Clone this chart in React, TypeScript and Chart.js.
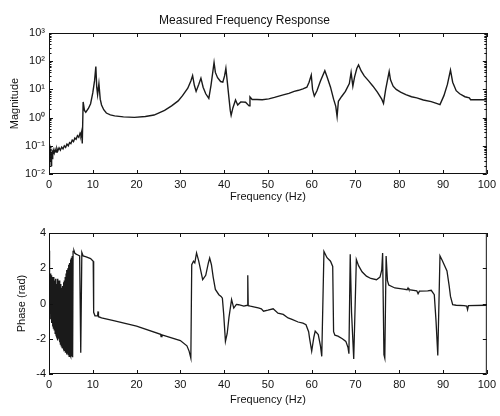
import React, { useEffect, useRef } from 'react';
import { Chart, registerables } from 'chart.js';

Chart.register(...registerables);

const FONT = "'Liberation Sans', Arial, Helvetica, sans-serif";
const INK = '#111111';

const chartTitle = 'Measured Frequency Response';
const xAxisTitle = 'Frequency (Hz)';
const magAxisTitle = 'Magnitude';
const phaseAxisTitle = 'Phase (rad)';

const freqTicks = [0, 10, 20, 30, 40, 50, 60, 70, 80, 90, 100];
const magTickValues = [0.01, 0.1, 1, 10, 100, 1000];
const magTickLabels = ['10⁻²', '10⁻¹', '10⁰', '10¹', '10²', '10³'];
const phaseTickValues = [-4, -2, 0, 2, 4];
const phaseTickLabels = ['-4', '-2', '0', '2', '4'];

// [frequency Hz, magnitude]
const magnitudePoints: [number, number][] = [
  [0.0, 0.09], [0.1, 0.05], [0.2, 0.11], [0.3, 0.03], [0.4, 0.08], [0.5, 0.02], [0.6, 0.06], [0.7, 0.035],
  [0.8, 0.07], [0.9, 0.045], [1.0, 0.07], [1.2, 0.055], [1.4, 0.075], [1.6, 0.06], [1.8, 0.08], [2.0, 0.065],
  [2.3, 0.085], [2.6, 0.07], [2.9, 0.09], [3.2, 0.078], [3.5, 0.1], [3.8, 0.088], [4.1, 0.115], [4.4, 0.1],
  [4.7, 0.13], [5.0, 0.12], [5.3, 0.16], [5.6, 0.14], [5.9, 0.19], [6.2, 0.17], [6.5, 0.23], [6.8, 0.2],
  [7.1, 0.28], [7.3, 0.24], [7.45, 0.31], [7.6, 0.12], [7.8, 3.6], [8.1, 1.8], [8.4, 1.55], [9.0, 2.1],
  [9.5, 3.1], [10.0, 7.5], [10.4, 20], [10.7, 65], [10.9, 12], [11.1, 6.5], [11.4, 16], [11.7, 4.5],
  [12.0, 2.8], [12.5, 1.9], [13.1, 1.45], [14.0, 1.25], [15.0, 1.15], [17.0, 1.06], [19.5, 1.02], [22.0, 1.1],
  [24.0, 1.23], [26.4, 1.8], [28.0, 2.6], [29.5, 3.9], [30.5, 6], [31.7, 11], [32.4, 20], [32.8, 31],
  [33.2, 14], [33.6, 8.5], [34.2, 15], [34.7, 25], [35.2, 12], [35.8, 7], [36.5, 4.8], [37.0, 14],
  [37.4, 40], [37.7, 90], [38.0, 40], [38.5, 26], [39.2, 19], [39.7, 18], [40.1, 30], [40.4, 56],
  [40.7, 20], [41.1, 5], [41.4, 1.8], [41.6, 1.2], [42.0, 2.2], [42.6, 4.2], [43.1, 2.8], [43.8, 3.6],
  [44.9, 3.5], [45.7, 2.6], [45.9, 5.4], [46.4, 4.4], [47.5, 4.4], [48.7, 4.3], [50.2, 4.6], [51.5, 5.2],
  [52.5, 5.8], [53.5, 6.4], [54.8, 7.2], [56.0, 8.5], [57.0, 9.3], [58.0, 10.5], [58.9, 12], [59.4, 18],
  [59.9, 32], [60.2, 10], [60.6, 5.8], [61.2, 9], [62.0, 20], [63.0, 46], [63.5, 28], [64.3, 12],
  [65.0, 4.5], [65.5, 2.5], [65.8, 1.1], [66.1, 3.8], [66.8, 5.5], [67.7, 8.5], [68.6, 16], [69.0, 40],
  [69.4, 13], [69.8, 28], [70.3, 55], [70.7, 74], [71.3, 45], [72.0, 30], [73.0, 20], [74.0, 13],
  [75.0, 8], [76.0, 4.5], [76.4, 3.2], [76.9, 10], [77.4, 25], [77.7, 43], [78.0, 22], [78.6, 13],
  [79.3, 10], [80.3, 8], [81.5, 6.5], [82.8, 5.5], [84.0, 5], [85.5, 4.2], [87.3, 3.7], [88.5, 3.2],
  [89.3, 2.9], [90.2, 6], [91.0, 15], [91.7, 48], [92.2, 18], [93.0, 9], [93.8, 7], [95.0, 5.5],
  [96.0, 5], [96.3, 4.3], [100, 4.3],
];

// [frequency Hz, phase rad]
const phasePoints: [number, number][] = [
  [0.0, 3.0], [0.05, 2.2], [0.1, -0.3], [0.15, 1.9], [0.2, -0.6], [0.3, 1.7], [0.4, -0.9], [0.5, 1.6],
  [0.6, -1.1], [0.7, 1.5], [0.8, -1.3], [0.9, 1.2], [1.0, -1.4], [1.1, 1.5], [1.2, -1.5], [1.3, 1.3],
  [1.4, -1.7], [1.5, 1.4], [1.6, -1.8], [1.7, 1.1], [1.8, -1.9], [1.9, 1.4], [2.0, -2.1], [2.1, 1.2],
  [2.2, -2.0], [2.3, 1.3], [2.4, -2.2], [2.5, 1.0], [2.6, -2.3], [2.7, 1.1], [2.8, -2.4], [2.9, 0.9],
  [3.0, -2.5], [3.1, 1.0], [3.2, -2.5], [3.3, 1.2], [3.4, -2.6], [3.5, 1.3], [3.6, -2.7], [3.7, 1.5],
  [3.8, -2.8], [3.9, 1.7], [4.0, -2.9], [4.1, 1.9], [4.2, -2.8], [4.3, 2.0], [4.4, -2.9], [4.5, 2.2],
  [4.6, -3.0], [4.7, 2.3], [4.8, -2.9], [4.9, 2.5], [5.0, -3.0], [5.1, 2.6], [5.2, -3.0], [5.3, 2.7],
  [5.4, -3.05], [5.5, 2.95], [5.7, 3.0], [5.9, 2.85], [6.2, 2.8], [6.6, 2.75], [7.0, 2.7], [7.25, -2.8],
  [7.5, 2.9], [7.8, 2.7], [8.5, 2.65], [9.5, 2.55], [10.1, 2.4], [10.2, -0.5], [10.5, -0.7], [11.1, -0.7],
  [11.2, -0.45], [11.3, -0.75], [12.0, -0.82], [15.0, -0.98], [20.0, -1.28], [25.5, -1.75], [25.6, -1.88], [25.8, -1.78],
  [30.0, -2.1], [31.5, -2.4], [32.0, -2.7], [32.4, -3.1], [32.6, 2.2], [33.0, 2.4], [33.3, 2.3], [33.7, 2.87],
  [34.2, 2.4], [35.1, 1.35], [35.8, 1.6], [36.4, 2.3], [36.7, 2.58], [37.1, 2.2], [37.5, 1.5], [38.0, 0.8],
  [38.8, 0.5], [39.3, 0.4], [39.6, 0.3], [39.9, -0.6], [40.3, -2.15], [40.7, -1.7], [41.1, -0.8], [41.7, 0.22],
  [42.2, -0.26], [42.8, -0.05], [43.3, -0.07], [44.5, -0.15], [45.3, -0.1], [45.4, 1.6], [45.5, -0.12], [46.0, -0.15],
  [47.0, -0.2], [47.8, -0.25], [48.5, -0.3], [49.0, -0.44], [50.0, -0.38], [51.2, -0.3], [52.3, -0.55], [53.5, -0.62],
  [54.6, -0.82], [55.5, -0.9], [56.9, -1.05], [58.0, -1.12], [58.7, -1.2], [59.3, -1.6], [59.5, -1.95], [60.0, -2.7],
  [60.5, -1.9], [60.8, -1.57], [61.5, -1.76], [62.0, -2.4], [62.3, -3.0], [62.8, 2.95], [63.5, 2.6], [64.3, 2.4],
  [64.8, 2.1], [65.0, -1.6], [65.3, -1.8], [66.0, -1.85], [67.0, -2.0], [67.8, -2.15], [68.3, -2.5], [68.5, -2.85],
  [68.8, 2.8], [69.1, -0.5], [69.6, -3.15], [70.2, 2.5], [70.7, 2.15], [71.5, 1.8], [72.5, 1.55], [73.5, 1.42],
  [74.8, 1.35], [75.6, 1.5], [76.0, 1.9], [76.2, 2.87], [76.5, -2.9], [76.7, -3.1], [77.0, 2.7], [77.3, 1.3],
  [77.6, 1.05], [79.0, 0.88], [81.0, 0.82], [81.8, 0.78], [82.0, 0.88], [82.2, 0.78], [84.0, 0.72], [84.3, 0.55],
  [84.6, 0.7], [86.5, 0.72], [87.3, 0.75], [88.0, 0.5], [88.4, -1.0], [88.8, -2.95], [89.3, 2.7], [89.8, 2.45],
  [90.9, 1.85], [91.4, 1.0], [91.7, 0.4], [92.2, -0.07], [93.0, -0.1], [94.8, -0.12], [95.4, -0.15], [95.6, -0.35],
  [95.8, -0.12], [100, -0.1],
];

const boxPlugin = {
  id: 'matlabBox',
  afterDatasetsDraw(chart: any) {
    const { ctx, chartArea: a, scales } = chart;
    ctx.save();
    ctx.strokeStyle = INK;
    ctx.lineWidth = 1;
    ctx.strokeRect(a.left + 0.5, a.top + 0.5, a.right - a.left - 1, a.bottom - a.top - 1);
    ctx.beginPath();
    const xs = scales.x;
    for (const t of xs.ticks) {
      const px = Math.round(xs.getPixelForValue(t.value)) + 0.5;
      ctx.moveTo(px, a.bottom);
      ctx.lineTo(px, a.bottom - 4);
      ctx.moveTo(px, a.top);
      ctx.lineTo(px, a.top + 4);
    }
    const ys = scales.y;
    for (const t of ys.ticks) {
      const py = Math.round(ys.getPixelForValue(t.value)) + 0.5;
      ctx.moveTo(a.left, py);
      ctx.lineTo(a.left + 4, py);
      ctx.moveTo(a.right, py);
      ctx.lineTo(a.right - 4, py);
    }
    if (ys.type === 'logarithmic') {
      const e0 = Math.round(Math.log10(ys.min));
      const e1 = Math.round(Math.log10(ys.max));
      for (let e = e0; e < e1; e++) {
        for (let m = 2; m <= 9; m++) {
          const py = Math.round(ys.getPixelForValue(m * Math.pow(10, e))) + 0.5;
          ctx.moveTo(a.left, py);
          ctx.lineTo(a.left + 2.5, py);
          ctx.moveTo(a.right, py);
          ctx.lineTo(a.right - 2.5, py);
        }
      }
    }
    ctx.stroke();
    ctx.restore();
  },
};

const font11 = { family: FONT, size: 11 };

function xScale(titleBottomPad: number, height: number) {
  return {
    type: 'linear',
    min: 0,
    max: 100,
    afterBuildTicks: (s: any) => {
      s.ticks = freqTicks.map((v) => ({ value: v }));
    },
    ticks: { font: font11, color: INK, padding: 4, maxRotation: 0, autoSkip: false, callback: (v: any) => String(v) },
    grid: { display: false, drawTicks: false },
    border: { display: false },
    title: { display: true, text: xAxisTitle, font: font11, color: INK, padding: { top: 0, bottom: titleBottomPad } },
    afterFit: (s: any) => {
      s.height = height;
    },
  };
}

function PlotCanvas({ config, top }: { config: any; top: number }) {
  const ref = useRef<HTMLCanvasElement | null>(null);
  useEffect(() => {
    if (!ref.current) return;
    const chart = new Chart(ref.current, config);
    return () => chart.destroy();
  }, [config]);
  return (
    <canvas
      ref={ref}
      width={500}
      height={208}
      style={{ position: 'absolute', left: 0, top, width: 500, height: 208, display: 'block' }}
    />
  );
}

const magConfig: any = {
  type: 'line',
  data: {
    datasets: [
      {
        data: magnitudePoints.map(([x, y]) => ({ x, y })),
        borderColor: '#1a1a1a',
        borderWidth: 1.4,
        pointRadius: 0,
        tension: 0,
      },
    ],
  },
  options: {
    responsive: false,
    animation: false,
    devicePixelRatio: 1,
    layout: { padding: { left: 0, right: 11, top: 0, bottom: 0 } },
    plugins: {
      legend: { display: false },
      tooltip: { enabled: false },
      title: {
        display: true,
        text: chartTitle,
        color: INK,
        font: { family: FONT, size: 12, weight: 'normal' },
        padding: { top: 13, bottom: 5.6 },
      },
    },
    scales: {
      x: xScale(4.4, 34),
      y: {
        type: 'logarithmic',
        min: 0.01,
        max: 1000,
        afterBuildTicks: (s: any) => {
          s.ticks = magTickValues.map((v) => ({ value: v }));
        },
        ticks: { font: font11, color: INK, padding: 4, autoSkip: false, callback: (_v: any, i: number) => magTickLabels[i] },
        grid: { display: false, drawTicks: false },
        border: { display: false },
        title: { display: true, text: magAxisTitle, font: font11, color: INK, padding: { top: 8.4, bottom: 0 } },
        afterFit: (s: any) => {
          s.width = 49;
        },
      },
    },
  },
  plugins: [boxPlugin],
};

const phaseConfig: any = {
  type: 'line',
  data: {
    datasets: [
      {
        data: phasePoints.map(([x, y]) => ({ x, y })),
        borderColor: '#1a1a1a',
        borderWidth: 1.3,
        pointRadius: 0,
        tension: 0,
      },
    ],
  },
  options: {
    responsive: false,
    animation: false,
    devicePixelRatio: 1,
    layout: { padding: { left: 0, right: 11, top: 25, bottom: 0 } },
    plugins: { legend: { display: false }, tooltip: { enabled: false } },
    scales: {
      x: xScale(9.4, 42),
      y: {
        type: 'linear',
        min: -4,
        max: 4,
        afterBuildTicks: (s: any) => {
          s.ticks = phaseTickValues.map((v) => ({ value: v }));
        },
        ticks: { font: font11, color: INK, padding: 3, autoSkip: false, callback: (_v: any, i: number) => phaseTickLabels[i] },
        grid: { display: false, drawTicks: false },
        border: { display: false },
        title: { display: true, text: phaseAxisTitle, font: font11, color: INK, padding: { top: 15.4, bottom: 0 } },
        afterFit: (s: any) => {
          s.width = 49;
        },
      },
    },
  },
  plugins: [boxPlugin],
};

export default function App() {
  return (
    <div style={{ position: 'absolute', left: 0, top: 0, width: 500, height: 416, background: '#fff' }}>
      <PlotCanvas config={magConfig} top={0} />
      <PlotCanvas config={phaseConfig} top={208} />
    </div>
  );
}
